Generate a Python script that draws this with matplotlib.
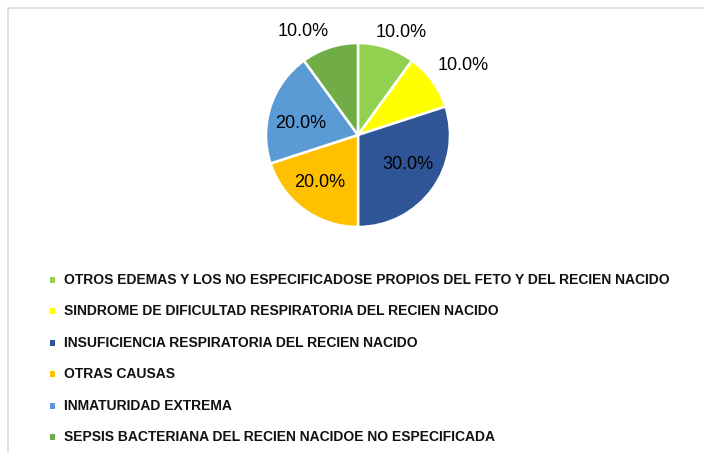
import matplotlib.pyplot as plt
from matplotlib.patches import Rectangle
import numpy as np

# Datos
causas = ['OTROS EDEMAS Y LOS NO ESPECIFICADOSE PROPIOS DEL FETO Y DEL RECIEN NACIDO',
          'SINDROME DE DIFICULTAD RESPIRATORIA DEL RECIEN NACIDO',
          'INSUFICIENCIA RESPIRATORIA DEL RECIEN NACIDO',
          'OTRAS CAUSAS',
          'INMATURIDAD EXTREMA',
          'SEPSIS BACTERIANA DEL RECIEN NACIDOE NO ESPECIFICADA']
porcentajes = [10.0, 10.0, 30.0, 20.0, 20.0, 10.0]
colores = ['#92D050', '#FFFF00', '#2F5597', '#FFC000', '#5B9BD5', '#70AD47']

# Posición de cada etiqueta: distancia radial y giro respecto al centro de la porción
dist_etiqueta = [1.21, 1.37, 0.63, 0.66, 0.64, 1.27]
giro_etiqueta = [-4.7, -2.7, 5, -3, 7, 10]

W, H = 704, 453
fig = plt.figure(figsize=(W/100, H/100), dpi=100)

# Borde del área del gráfico
fig.patches.append(Rectangle((8/W, -0.1), 1.2, 1 - 8/H + 0.1, transform=fig.transFigure,
                             fill=False, edgecolor='#D9D9D9', linewidth=1.2))

# Pastel
cx, cy, r = 358, 135, 92
ax = fig.add_axes([(cx - r)/W, 1 - (cy + r)/H, 2*r/W, 2*r/H])
wedges, _ = ax.pie(porcentajes, colors=colores, startangle=90, counterclock=False,
                   wedgeprops=dict(edgecolor='white', linewidth=1.8))
ax.set_xlim(-1, 1)
ax.set_ylim(-1, 1)
ax.axis('off')

for w, p, d, g in zip(wedges, porcentajes, dist_etiqueta, giro_etiqueta):
    ang = np.deg2rad((w.theta1 + w.theta2) / 2 + g)
    ax.text(d*np.cos(ang), d*np.sin(ang), f'{p:.1f}%', ha='center', va='center',
            fontsize=13, family=['Liberation Sans'], color='black', clip_on=False)

# Leyenda
y0, dy = 280, 31.4
for i, (c, lab) in enumerate(zip(colores, causas)):
    y = y0 + i*dy
    fig.patches.append(Rectangle((50/W, 1 - (y + 3)/H), 5/W, 6/H,
                                 transform=fig.transFigure, facecolor=c, edgecolor='none'))
    fig.text(64/W, 1 - y/H, lab, ha='left', va='center', fontsize=10, fontweight='bold',
             family=['Liberation Sans Narrow', 'Liberation Sans'], color='#111111')

fig.savefig('out.png', dpi=100, facecolor='white')
